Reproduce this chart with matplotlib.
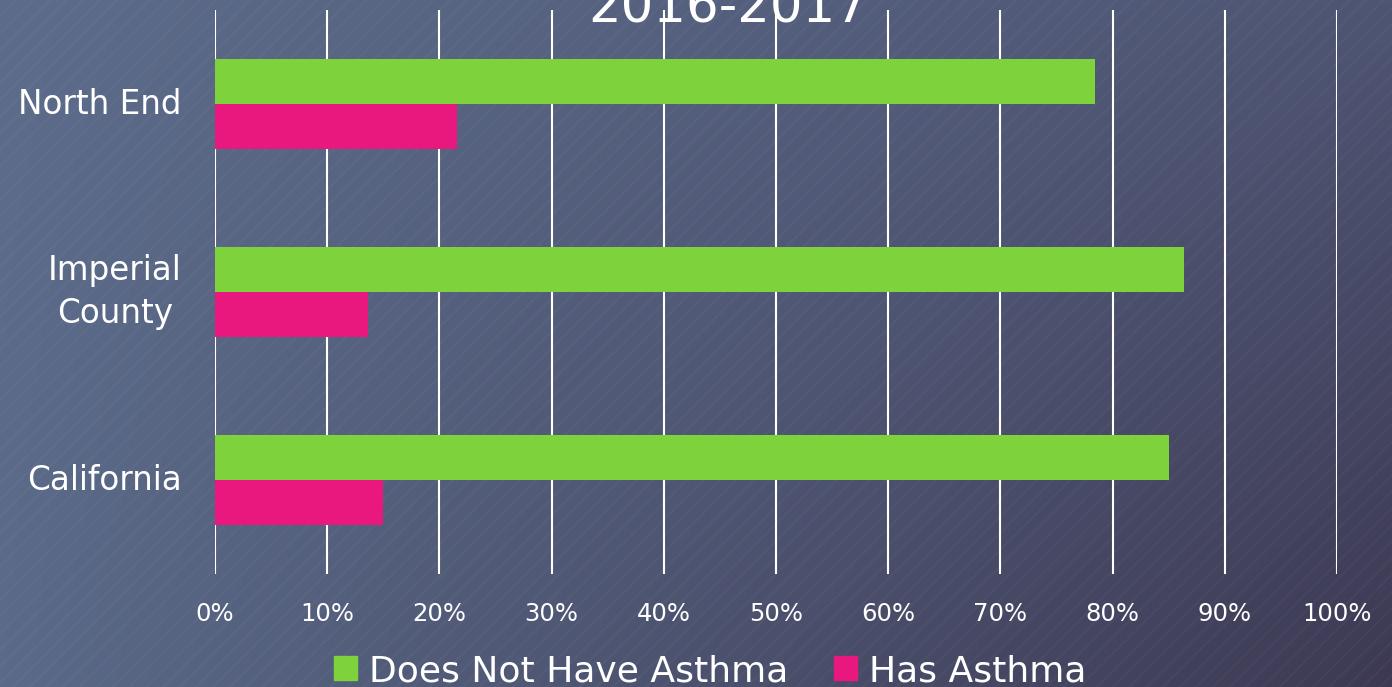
import numpy as np
import matplotlib
matplotlib.use("Agg")
import matplotlib.pyplot as plt
from matplotlib.patches import Patch, Rectangle
from matplotlib.colors import to_rgb

# data
categories = ["California", "Imperial\nCounty", "North End"]
no_asthma = [85.0, 86.4, 78.4]
has_asthma = [15.0, 13.6, 21.6]
series_names = ["Does Not Have Asthma", "Has Asthma"]
x_ticks = list(range(0, 101, 10))
x_tick_labels = [f"{t}%" for t in x_ticks]

GREEN = "#7ed23b"
PINK = "#e8187e"

fig = plt.figure(figsize=(13.92, 6.87), dpi=100)

# background: diagonal gradient + fine stripes
bg = fig.add_axes([0, 0, 1, 1], zorder=-10)
bg.set_axis_off()
tl, tr = np.array(to_rgb("#5c6c8a")), np.array(to_rgb("#4e5573"))
bl, br = np.array(to_rgb("#5a6a88")), np.array(to_rgb("#3d3953"))
u = np.linspace(0, 1, 300)[None, :, None]
v = np.linspace(0, 1, 150)[:, None, None]
grad = (1 - v) * ((1 - u) * tl + u * tr) + v * ((1 - u) * bl + u * br)
bg.imshow(grad, extent=[0, 1, 0, 1], aspect="auto", origin="upper")
plt.rcParams["hatch.linewidth"] = 1.5
bg.add_patch(Rectangle((0, 0), 1, 1, facecolor="none", edgecolor=(1, 1, 1, 0.03),
                       hatch="//", linewidth=0))
bg.set_xlim(0, 1)
bg.set_ylim(0, 1)

ax = fig.add_axes([215 / 1392, 1 - 574 / 687, 1122 / 1392, 564 / 687])
ax.set_facecolor("none")

y = np.arange(len(categories))
h = 0.237
ax.barh(y + h / 2, no_asthma, height=h, color=GREEN, zorder=3, label=series_names[0])
ax.barh(y - h / 2, has_asthma, height=h, color=PINK, zorder=3, label=series_names[1])

ax.set_xlim(0, 100)
ax.set_ylim(-0.5, 2.5)
ax.set_xticks(x_ticks)
ax.set_xticklabels(x_tick_labels, color="white", fontsize=17.5)
ax.set_yticks(y)
ax.set_yticklabels(categories, color="white", fontsize=23.5, va="center")
for lab in ax.get_yticklabels():
    lab.set_multialignment("center")
    lab.set_linespacing(1.4)
ax.tick_params(axis="both", length=0)
ax.tick_params(axis="x", pad=20)
ax.tick_params(axis="y", pad=24)
ax.grid(axis="x", color="white", linewidth=1.5, zorder=1)
for s in ax.spines.values():
    s.set_visible(False)

fig.text(728 / 1392, 1 - 22.7 / 687, "2016-2017", ha="center", va="baseline",
         fontsize=37, color="white")

handles = [Patch(color=GREEN), Patch(color=PINK)]
fig.legend(handles, series_names, loc="center", bbox_to_anchor=(710 / 1392, 1 - 671 / 687),
           ncol=2, frameon=False, fontsize=26, labelcolor="white",
           handlelength=0.63, handleheight=0.63, handletextpad=0.33,
           columnspacing=1.27, borderpad=0, borderaxespad=0)

fig.savefig("out.png", dpi=100)
